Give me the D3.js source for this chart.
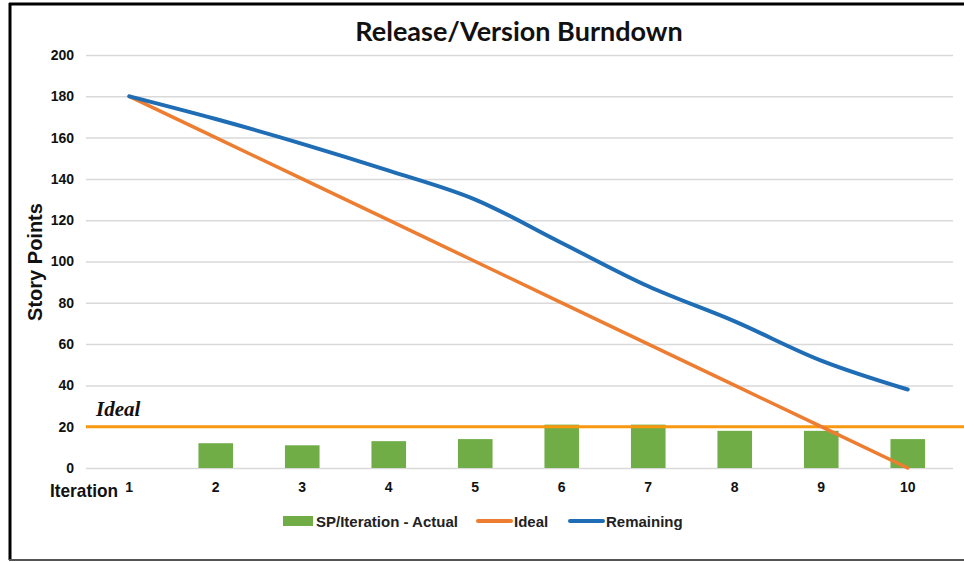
<!DOCTYPE html>
<html><head><meta charset="utf-8">
<script src="https://cdn.jsdelivr.net/npm/d3@7/dist/d3.min.js"></script>
<style>body{margin:0;background:#fff;} svg{display:block;}</style>
</head><body>
<script>
const categories = ["1","2","3","4","5","6","7","8","9","10"];
const actual = [0,12,11,13,14,21,21,18,18,14];
const ideal = [180,160,140,120,100,80,60,40,20,0];
const remaining = [180,169,157,144,130,109,88,71,52,38];
const yTicks = [0,20,40,60,80,100,120,140,160,180,200];
const idealLevel = 20;

const W = 964, H = 562;
const svg = d3.select("body").append("svg").attr("width", W).attr("height", H);

const x = d3.scaleBand().domain(categories).range([86, 951]).paddingInner(0.6).paddingOuter(0.3);
const xc = d => x(d) + x.bandwidth()/2;
const y = d3.scaleLinear().domain([0,200]).range([468,55]);

// border
svg.append("line").attr("x1",9).attr("x2",964).attr("y1",4).attr("y2",4).attr("stroke","#000").attr("stroke-width",3);
svg.append("line").attr("x1",10).attr("x2",10).attr("y1",3).attr("y2",560).attr("stroke","#000").attr("stroke-width",3);
svg.append("line").attr("x1",9).attr("x2",964).attr("y1",560).attr("y2",560).attr("stroke","#555").attr("stroke-width",2);

// title
svg.append("text").attr("x",519).attr("y",41).attr("text-anchor","middle")
  .style("font-family","Lato, 'Open Sans', sans-serif").style("font-weight","bold").style("font-size","27px")
  .attr("fill","#111").text("Release/Version Burndown");

// y axis
const yAxis = d3.axisLeft(y).tickValues(yTicks).tickSize(-(953-86)).tickPadding(12);
const gy = svg.append("g").attr("transform","translate(86,0)").call(yAxis);
gy.select(".domain").remove();
gy.selectAll(".tick line").attr("stroke","#d9d9d9").attr("stroke-width",1.5);
gy.selectAll(".tick text").style("font-family","'Liberation Sans', Arial, sans-serif").style("font-weight","bold")
  .style("font-size","14px").attr("fill","#111");

// x axis
const xAxis = d3.axisBottom(x).tickSize(0).tickPadding(14);
const gx = svg.append("g").attr("transform","translate(0,468)").call(xAxis);
gx.select(".domain").remove();
gx.selectAll(".tick text").style("font-family","'Liberation Sans', Arial, sans-serif").style("font-weight","bold")
  .style("font-size","14px").attr("fill","#111");

svg.append("text").attr("x",50).attr("y",497).attr("textLength",68).attr("lengthAdjust","spacingAndGlyphs")
  .style("font-family","'Liberation Sans', Arial, sans-serif").style("font-weight","bold").style("font-size","19px")
  .attr("fill","#111").text("Iteration");

svg.append("text").attr("transform","translate(42,262) rotate(-90)").attr("text-anchor","middle")
  .style("font-family","'Liberation Sans', Arial, sans-serif").style("font-weight","bold").style("font-size","20px")
  .attr("fill","#111").text("Story Points");

// bars
svg.append("g").selectAll("rect").data(categories.map((c,i)=>({c, v: actual[i]})).filter(d=>d.v>0))
  .join("rect").attr("x", d=>x(d.c)).attr("width", x.bandwidth())
  .attr("y", d=>y(d.v)).attr("height", d=>y(0)-y(d.v)).attr("fill","#70ad47");

// ideal level line
svg.append("line").attr("x1",86).attr("x2",964).attr("y1",y(idealLevel)).attr("y2",y(idealLevel))
  .attr("stroke","#f7980f").attr("stroke-width",3);
svg.append("text").attr("x",96).attr("y",416)
  .style("font-family","'Liberation Serif', 'Times New Roman', serif").style("font-weight","bold").style("font-style","italic")
  .style("font-size","21px").attr("fill","#111").text("Ideal");

// lines
const line = d3.line().x((d,i)=>xc(categories[i])).y(d=>y(d)).curve(d3.curveMonotoneX);
svg.append("path").datum(ideal).attr("d", d3.line().x((d,i)=>xc(categories[i])).y(d=>y(d)))
  .attr("fill","none").attr("stroke","#ed7d31").attr("stroke-width",3.5).attr("stroke-linecap","round");
svg.append("path").datum(remaining).attr("d", line)
  .attr("fill","none").attr("stroke","#1f6db5").attr("stroke-width",4).attr("stroke-linecap","round");

// legend
const lg = svg.append("g").style("font-family","'Liberation Sans', Arial, sans-serif").style("font-size","15px").style("font-weight","bold");
lg.append("rect").attr("x",283).attr("y",516).attr("width",30).attr("height",10).attr("fill","#70ad47");
lg.append("text").attr("x",316).attr("y",527).attr("fill","#222").text("SP/Iteration - Actual");
lg.append("line").attr("x1",478).attr("x2",511).attr("y1",521).attr("y2",521).attr("stroke","#ed7d31").attr("stroke-width",4).attr("stroke-linecap","round");
lg.append("text").attr("x",514).attr("y",527).attr("fill","#222").text("Ideal");
lg.append("line").attr("x1",570).attr("x2",603).attr("y1",521).attr("y2",521).attr("stroke","#1f6db5").attr("stroke-width",4).attr("stroke-linecap","round");
lg.append("text").attr("x",606).attr("y",527).attr("fill","#222").text("Remaining");
</script>
</body></html>
